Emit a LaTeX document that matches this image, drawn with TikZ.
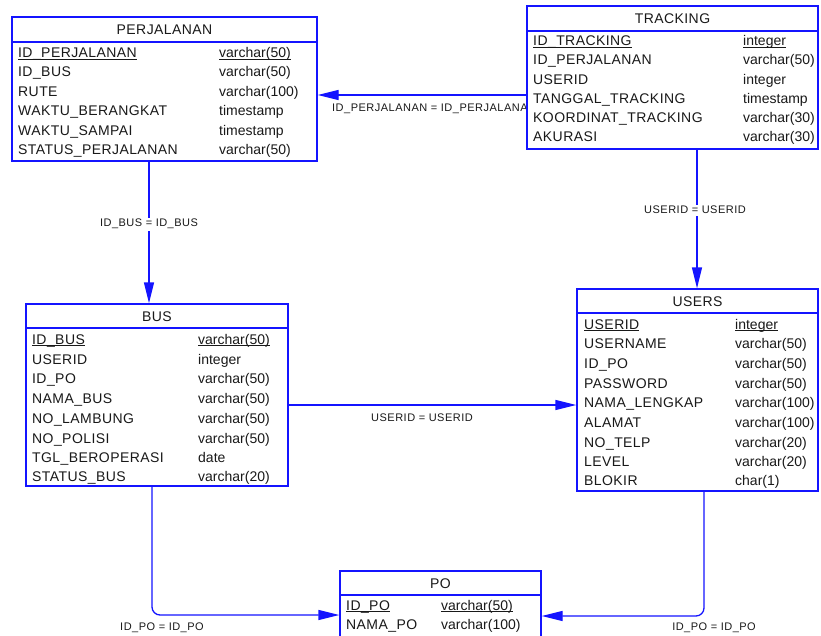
\documentclass[tikz,border=0pt]{standalone}
\usepackage{fontspec}
\setmainfont{Liberation Sans}
\newfontfamily\ERnamefont[LetterSpace=3]{Liberation Sans}
\newfontfamily\ERlblfont[LetterSpace=4.5]{Liberation Sans}
\usetikzlibrary{arrows.meta}
\pgfdeclarelayer{background}
\pgfsetlayers{background,main}

\definecolor{erblue}{RGB}{20,20,255}
\definecolor{ertext}{RGB}{25,25,25}

% underline that sits on the underscore line
\newcommand\ERul[1]{{\setbox0\hbox{#1}\rlap{\rule[-2pt]{\wd0}{0.9pt}}\box0}}

% table box: name, x1, y1, x2, y2, header line y, title
\newcommand\ERbox[7]{%
  \node[tbl, minimum width={#4-#2}, minimum height={#5-#3}] (#1) at ({(#2+#4)/2},{(#3+#5)/2}) {};
  \draw[tline] (#2,#6) -- (#4,#6);
  \node[hdrtxt] (#1-title) at ({(#2+#4)/2},{(#3+#6)/2+5}) {#7};}

% one column row: table, index, y, x of name, x of type, name, type
\newcommand\ERrow[7]{%
  \node[nametxt] (#1-n#2) at (#4,#3+5) {#6};
  \node[typetxt] (#1-t#2) at (#5,#3+5) {#7};}

\begin{document}
\begin{tikzpicture}[x=1pt,y=-1pt,
  tbl/.style={draw=erblue, fill=white, line width=1.3pt, inner sep=0pt, rectangle},
  tline/.style={draw=erblue, line width=1.3pt},
  hdrtxt/.style={anchor=base, inner sep=0pt, text=ertext, font=\ERnamefont\fontsize{14}{16}\selectfont},
  nametxt/.style={anchor=base west, inner sep=0pt, text=ertext, font=\ERnamefont\fontsize{14}{16}\selectfont},
  typetxt/.style={anchor=base west, inner sep=0pt, text=ertext, font=\fontsize{14}{16}\selectfont},
  conn/.style={draw=erblue, line width=1.3pt, -{Triangle[length=21pt,width=10pt]}},
  lbl/.style={anchor=base, inner sep=1.5pt, text=ertext, font=\ERlblfont\fontsize{11}{13}\selectfont}]

\useasboundingbox (0,0) rectangle (821,636);
\clip (0,0) rectangle (821,636);

% ---------- tables ----------
\ERbox{perj}{12}{17}{317}{161}{42}{PERJALANAN}
\ERrow{perj}{1}{53}{18}{219}{\ERul{ID\_PERJALANAN}}{\ERul{varchar(50)}}
\ERrow{perj}{2}{72}{18}{219}{ID\_BUS}{varchar(50)}
\ERrow{perj}{3}{92}{18}{219}{RUTE}{varchar(100)}
\ERrow{perj}{4}{111}{18}{219}{WAKTU\_BERANGKAT}{timestamp}
\ERrow{perj}{5}{131}{18}{219}{WAKTU\_SAMPAI}{timestamp}
\ERrow{perj}{6}{150}{18}{219}{STATUS\_PERJALANAN}{varchar(50)}

\ERbox{track}{527}{6}{818}{149}{31}{TRACKING}
\ERrow{track}{1}{41}{533}{743}{\ERul{ID\_TRACKING}}{\ERul{integer}}
\ERrow{track}{2}{60}{533}{743}{ID\_PERJALANAN}{varchar(50)}
\ERrow{track}{3}{80}{533}{743}{USERID}{integer}
\ERrow{track}{4}{99}{533}{743}{TANGGAL\_TRACKING}{timestamp}
\ERrow{track}{5}{118}{533}{743}{KOORDINAT\_TRACKING}{varchar(30)}
\ERrow{track}{6}{137}{533}{743}{AKURASI}{varchar(30)}

\ERbox{bus}{26}{304}{288}{486}{328}{BUS}
\ERrow{bus}{1}{339}{32}{198}{\ERul{ID\_BUS}}{\ERul{varchar(50)}}
\ERrow{bus}{2}{359}{32}{198}{USERID}{integer}
\ERrow{bus}{3}{378}{32}{198}{ID\_PO}{varchar(50)}
\ERrow{bus}{4}{398}{32}{198}{NAMA\_BUS}{varchar(50)}
\ERrow{bus}{5}{418}{32}{198}{NO\_LAMBUNG}{varchar(50)}
\ERrow{bus}{6}{438}{32}{198}{NO\_POLISI}{varchar(50)}
\ERrow{bus}{7}{457}{32}{198}{TGL\_BEROPERASI}{date}
\ERrow{bus}{8}{476}{32}{198}{STATUS\_BUS}{varchar(20)}

\ERbox{users}{577}{289}{818}{491}{313}{USERS}
\ERrow{users}{1}{324}{584}{735}{\ERul{USERID}}{\ERul{integer}}
\ERrow{users}{2}{343}{584}{735}{USERNAME}{varchar(50)}
\ERrow{users}{3}{363}{584}{735}{ID\_PO}{varchar(50)}
\ERrow{users}{4}{383}{584}{735}{PASSWORD}{varchar(50)}
\ERrow{users}{5}{402}{584}{735}{NAMA\_LENGKAP}{varchar(100)}
\ERrow{users}{6}{422}{584}{735}{ALAMAT}{varchar(100)}
\ERrow{users}{7}{442}{584}{735}{NO\_TELP}{varchar(20)}
\ERrow{users}{8}{461}{584}{735}{LEVEL}{varchar(20)}
\ERrow{users}{9}{480}{584}{735}{BLOKIR}{char(1)}

\ERbox{po}{340}{571}{541}{660}{595}{PO}
\ERrow{po}{1}{605}{346}{441}{\ERul{ID\_PO}}{\ERul{varchar(50)}}
\ERrow{po}{2}{624}{346}{441}{NAMA\_PO}{varchar(100)}

% ---------- references ----------
\coordinate (k1) at (0,95);
\coordinate (k2) at (149,0);
\coordinate (k3) at (697,0);
\coordinate (k4) at (0,405);
\coordinate (k5) at (152,615);
\coordinate (k6) at (704,616);

\begin{pgfonlayer}{background}
  \draw[conn] (track.west |- k1) -- (perj.east |- k1);
  \node[lbl, anchor=base west, inner sep=0pt] (l1) at (332,112) {ID\_PERJALANAN = ID\_PERJALANAN};

  \draw[conn] (perj.south -| k2) -- (bus.north -| k2);
  \node[lbl, fill=white] (l2) at (149,227) {ID\_BUS = ID\_BUS};

  \draw[conn] (track.south -| k3) -- (users.north -| k3);
  \node[lbl, fill=white] (l3) at (695,214) {USERID = USERID};

  \draw[conn] (bus.east |- k4) -- (users.west |- k4);
  \node[lbl] (l4) at (422,421) {USERID = USERID};

  \draw[conn, rounded corners=8pt] (bus.south -| k5) |- (po.west |- k5);
  \node[lbl] (l5) at (162,630) {ID\_PO = ID\_PO};

  \draw[conn, rounded corners=8pt] (users.south -| k6) |- (po.east |- k6);
  \node[lbl] (l6) at (714,630) {ID\_PO = ID\_PO};
\end{pgfonlayer}
\end{tikzpicture}
\end{document}
